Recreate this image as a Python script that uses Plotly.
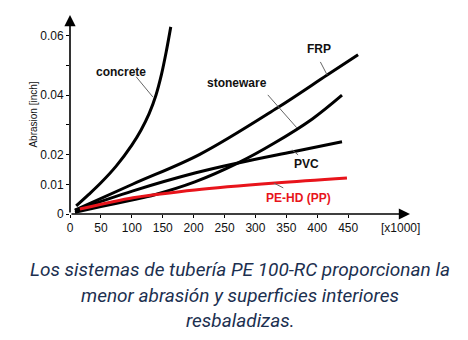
import plotly.graph_objects as go

# ---- data (x in thousands of cycles, y = abrasion in inch) ----
concrete_x = [10, 30, 50, 75, 100, 115, 128, 139, 148, 156, 163]
concrete_y = [0.0027, 0.0065, 0.0105, 0.0162, 0.0232, 0.0283, 0.0338, 0.0400, 0.0470, 0.0550, 0.0630]

frp_x = [8, 102, 210, 335, 416, 466]
frp_y = [0.0013, 0.0101, 0.0201, 0.0357, 0.0468, 0.0536]

stone_x = [8, 50, 102, 137, 202, 272, 330, 392, 440]
stone_y = [0.0006, 0.0025, 0.0048, 0.0065, 0.0108, 0.0172, 0.0238, 0.0320, 0.0400]

pvc_x = [8, 102, 202, 272, 359, 440]
pvc_y = [0.0012, 0.0078, 0.0138, 0.0172, 0.0209, 0.0243]

pe_x = [16, 102, 137, 202, 332, 448]
pe_y = [0.0017, 0.0055, 0.0065, 0.0081, 0.0104, 0.0121]

x_ticks = [0, 50, 100, 150, 200, 250, 300, 350, 400, 450]
y_ticks = [0, 0.01, 0.02, 0.03, 0.04, 0.05, 0.06]
y_ticktext = ["0", "0.01", "0.02", "", "0.04", "", "0.06"]

labels = ["concrete", "stoneware", "FRP", "PVC", "PE-HD (PP)"]
label_x = [82, 270, 403, 383, 369]
label_y = [0.0477, 0.0441, 0.0556, 0.0170, 0.0054]
label_col = ["#111111", "#111111", "#111111", "#111111", "#e8141b"]
leader_x0 = [107, 320, 405, 359, 330]
leader_y0 = [0.0462, 0.0401, 0.0512, 0.0216, 0.0104]
leader_x1 = [134, 367, 416, 369, 345]
leader_y1 = [0.0394, 0.0290, 0.0468, 0.0199, 0.0088]

caption = ["Los sistemas de tubería PE 100-RC proporcionan la",
           "menor abrasión y superficies interiores",
           "resbaladizas."]

X_MAX, Y_MAX = 550, 0.067
W, H = 468, 340
ML, MR, MT, MB = 70, 58, 15, 126

fig = go.Figure()
for xs, ys, col in [(concrete_x, concrete_y, "#000000"),
                    (frp_x, frp_y, "#000000"),
                    (stone_x, stone_y, "#000000"),
                    (pvc_x, pvc_y, "#000000"),
                    (pe_x, pe_y, "#e8141b")]:
    fig.add_trace(go.Scatter(x=xs, y=ys, mode="lines",
                             line=dict(color=col, width=3, shape="spline", smoothing=1.0),
                             hoverinfo="skip", showlegend=False, cliponaxis=False))

# leader lines
for x0, y0, x1, y1 in zip(leader_x0, leader_y0, leader_x1, leader_y1):
    fig.add_shape(type="line", x0=x0, y0=y0, x1=x1, y1=y1, xref="x", yref="y",
                  line=dict(color="#666666", width=1))

# labels
for t, lx, ly, c in zip(labels, label_x, label_y, label_col):
    fig.add_annotation(x=lx, y=ly, text="<b>%s</b>" % t, showarrow=False,
                       font=dict(family="Liberation Sans, Arial", size=12, color=c))

# axis arrows
fig.add_annotation(x=X_MAX, y=0, ax=0, ay=0, xref="x", yref="y", axref="x", ayref="y",
                   showarrow=True, arrowhead=2, arrowsize=1.4, arrowwidth=1.6,
                   arrowcolor="#000000", text="", standoff=0, startstandoff=0)
fig.add_annotation(x=0, y=Y_MAX, ax=0, ay=0, xref="x", yref="y", axref="x", ayref="y",
                   showarrow=True, arrowhead=2, arrowsize=1.4, arrowwidth=1.6,
                   arrowcolor="#000000", text="", standoff=0, startstandoff=0)

fig.add_annotation(x=534, y=0, xref="x", yref="y", yshift=-14, text="[x1000]",
                   showarrow=False, font=dict(family="Liberation Sans, Arial", size=12, color="#111111"))

ph = H - MT - MB
for i, (line, py) in enumerate(zip(caption, [269, 295, 320])):
    fig.add_annotation(x=0.5, xref="paper", y=(H - MB - py) / ph, yref="paper",
                       xanchor="center", yanchor="middle", text="<i>%s</i>" % line,
                       showarrow=False,
                       font=dict(family="Roboto", size=19, color="#1c3050"))

fig.update_layout(
    width=W, height=H,
    margin=dict(l=ML, r=MR, t=MT, b=MB),
    paper_bgcolor="white", plot_bgcolor="white",
    font=dict(family="Liberation Sans, Arial", size=12, color="#111111"),
    xaxis=dict(range=[0, X_MAX], tickvals=x_ticks, showgrid=False, zeroline=False,
               showline=False, ticks="outside", ticklen=3, tickcolor="#000000",
               tickfont=dict(size=12)),
    yaxis=dict(range=[0, Y_MAX], tickvals=y_ticks, ticktext=y_ticktext, showgrid=False,
               zeroline=False, showline=False, ticks="outside", ticklen=3,
               tickcolor="#000000", tickfont=dict(size=12),
               title=dict(text="Abrasion [inch]", font=dict(size=10), standoff=0)),
)

fig.write_html("out.html")
